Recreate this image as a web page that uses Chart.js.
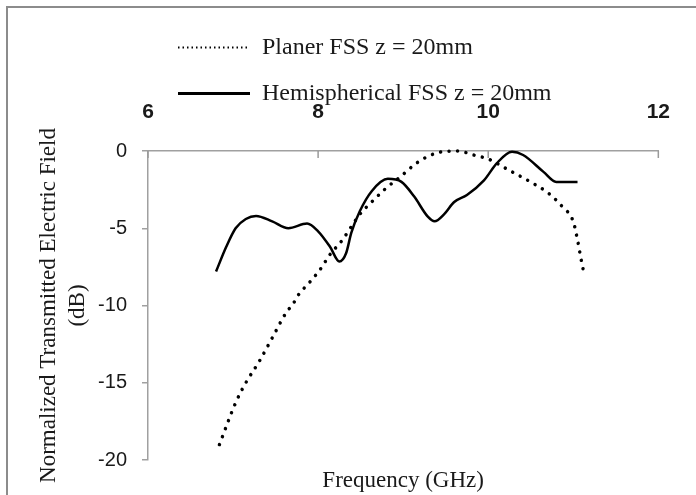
<!DOCTYPE html>
<html>
<head>
<meta charset="utf-8">
<script src="https://cdn.jsdelivr.net/npm/chart.js@4.4.1/dist/chart.umd.min.js"></script>
<style>
  html, body { margin: 0; padding: 0; background: #fff; }
  #frame { position: absolute; left: 6px; top: 6px; width: 720px; height: 520px;
           border-left: 2px solid #8c8c8c; border-top: 2px solid #8c8c8c; }
  #wrap { position: absolute; left: 0; top: 0; width: 696px; height: 495px; }
</style>
</head>
<body>
<div id="frame"></div>
<div id="wrap"><canvas id="fssChart"></canvas></div>
<script>
// data (frequency in GHz, field in dB)
const planerFreq  = [6.84, 7.03, 7.15, 7.31, 7.46, 7.62, 7.71, 7.77, 7.90, 8.02, 8.14, 8.28, 8.39, 8.49, 8.63, 8.78, 8.97, 9.18, 9.40, 9.64, 9.83, 10.01, 10.24, 10.49, 10.71, 10.87, 11.00, 11.05, 11.09, 11.13];
const planerField = [-19.0, -16.3, -15.0, -13.6, -12.1, -10.5, -9.86, -9.3, -8.5, -7.7, -6.7, -5.8, -4.9, -4.1, -3.3, -2.5, -1.65, -0.7, -0.12, 0, -0.26, -0.54, -1.23, -1.98, -2.74, -3.6, -4.57, -5.76, -6.95, -8.03];

const hemiFreq  = [6.80, 6.92, 7.03, 7.15, 7.27, 7.46, 7.65, 7.87, 8.00, 8.14, 8.25, 8.33, 8.39, 8.49, 8.63, 8.82, 8.98, 9.13, 9.29, 9.37, 9.48, 9.60, 9.75, 9.95, 10.10, 10.28, 10.41, 10.65, 10.80, 11.05];
const hemiField = [-7.8, -6.2, -5.0, -4.4, -4.2, -4.55, -5.0, -4.7, -5.2, -6.2, -7.15, -6.6, -5.3, -3.9, -2.6, -1.8, -2.0, -2.95, -4.25, -4.55, -4.1, -3.3, -2.85, -1.9, -0.8, -0.05, -0.26, -1.35, -2.0, -2.0];

const seriesNames = ['Planer FSS z = 20mm', 'Hemispherical FSS z = 20mm'];
const xTicks = [6, 8, 10, 12];
const yTicks = [0, -5, -10, -15, -20];

function toPoints(xs, ys) {
    return xs.map((x, i) => ({ x: x, y: ys[i] }));
}

// small tick marks pointing down into the plot from the top axis
const innerTicks = {
    id: 'innerTicks',
    afterDraw(chart) {
        const sx = chart.scales.x;
        const top = chart.chartArea.top;
        const ctx = chart.ctx;
        ctx.save();
        ctx.strokeStyle = '#9a9a9a';
        ctx.lineWidth = 1.5;
        xTicks.forEach(v => {
            const px = sx.getPixelForValue(v);
            ctx.beginPath();
            ctx.moveTo(px, top);
            ctx.lineTo(px, top + 7);
            ctx.stroke();
        });
        ctx.restore();
    }
};

// legend rows a bit to the right, and let the top tick labels reach up past the legend box
const layoutTweak = {
    id: 'layoutTweak',
    afterLayout(chart) {
        chart.legend.left += 8;
        chart.legend.right += 8;
        chart.scales.x.top = chart.scales.x.bottom - 70;
    }
};

const ctx = document.getElementById('fssChart').getContext('2d');
new Chart(ctx, {
    type: 'line',
    data: {
        datasets: [
            {
                label: seriesNames[0],
                data: toPoints(planerFreq, planerField),
                borderColor: '#000',
                backgroundColor: '#000',
                borderWidth: 3.5,
                borderDash: [0.01, 8.5],
                borderCapStyle: 'round',
                cubicInterpolationMode: 'monotone',
                pointRadius: 0,
                fill: false,
                clip: 8
            },
            {
                label: seriesNames[1],
                data: toPoints(hemiFreq, hemiField),
                borderColor: '#000',
                backgroundColor: '#000',
                borderWidth: 2.5,
                cubicInterpolationMode: 'monotone',
                pointRadius: 0,
                fill: false,
                clip: 8
            }
        ]
    },
    options: {
        responsive: true,
        maintainAspectRatio: false,
        animation: false,
        layout: {
            padding: { left: 10, right: 33, top: 13.5, bottom: 0 }
        },
        plugins: {
            legend: {
                position: 'top',
                align: 'start',
                fullSize: false,
                labels: {
                    usePointStyle: true,
                    pointStyle: 'line',
                    pointStyleWidth: 72,
                    padding: 22,
                    color: '#1a1a1a',
                    font: { family: 'Liberation Serif', size: 24 },
                    generateLabels(chart) {
                        const items = Chart.defaults.plugins.legend.labels.generateLabels(chart);
                        items.forEach(it => {
                            if (it.datasetIndex === 0) {
                                it.lineDash = [1.5, 3];
                                it.lineWidth = 1.8;
                                it.lineCap = 'butt';
                            } else {
                                it.lineWidth = 3;
                            }
                        });
                        return items;
                    }
                }
            },
            tooltip: { enabled: false }
        },
        scales: {
            x: {
                type: 'linear',
                position: 'top',
                min: 6,
                max: 12,
                afterBuildTicks: s => { s.ticks = xTicks.map(v => ({ value: v })); },
                afterFit: s => { s.height = 35.5; },
                grid: { display: false, drawTicks: false },
                border: { display: true, color: '#a0a0a0', width: 1.5 },
                ticks: {
                    color: '#1a1a1a',
                    padding: 26,
                    maxRotation: 0,
                    font: { family: 'Liberation Sans', size: 21, weight: 'bold' }
                }
            },
            x2: {
                type: 'linear',
                position: 'bottom',
                min: 6,
                max: 12,
                afterFit: s => { s.height = 35; },
                grid: { display: false, drawTicks: false },
                border: { display: false },
                ticks: { display: false },
                title: {
                    display: true,
                    text: 'Frequency (GHz)',
                    color: '#1a1a1a',
                    padding: 0,
                    font: { family: 'Liberation Serif', size: 23 }
                }
            },
            y: {
                type: 'linear',
                position: 'left',
                min: -20,
                max: 0,
                afterBuildTicks: s => { s.ticks = yTicks.map(v => ({ value: v })); },
                afterFit: s => { s.width = 138; },
                grid: {
                    display: true,
                    drawOnChartArea: false,
                    drawTicks: true,
                    tickLength: 6,
                    color: '#a0a0a0',
                    lineWidth: 1.5
                },
                border: { display: true, color: '#a0a0a0', width: 1.5 },
                ticks: {
                    color: '#1a1a1a',
                    padding: 15,
                    font: { family: 'Liberation Sans', size: 20 }
                },
                title: {
                    display: true,
                    text: ['Normalized Transmitted Electric Field', '(dB)'],
                    color: '#1a1a1a',
                    padding: { top: 24.5, bottom: 0 },
                    font: { family: 'Liberation Serif', size: 23, lineHeight: '29px' }
                }
            }
        }
    },
    plugins: [innerTicks, layoutTweak]
});
</script>
</body>
</html>
